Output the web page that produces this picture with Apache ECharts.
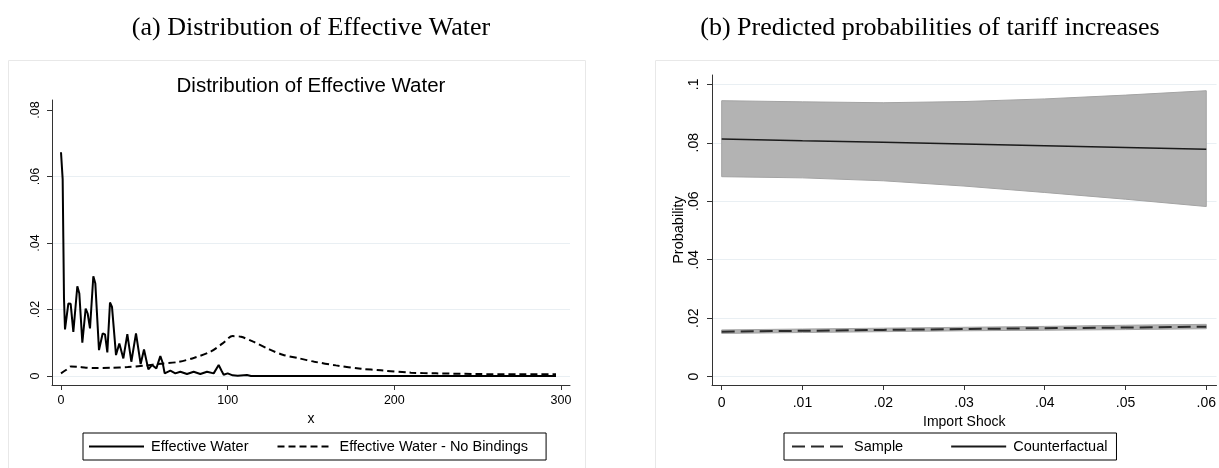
<!DOCTYPE html>
<html>
<head>
<meta charset="utf-8">
<script src="https://cdn.jsdelivr.net/npm/echarts@6/dist/echarts.min.js"></script>
<style>
  html, body { margin: 0; padding: 0; background: #fff; }
  #main { width: 1219px; height: 468px; }
</style>
</head>
<body>
<div id="main"></div>
<script>
// (a) kernel densities of effective water
var waterX = [0, 1.0, 1.4, 1.8, 2.4, 4.4, 5.8, 7.4, 9.8, 11.0, 12.8, 14.8, 16.0, 17.4, 19.4, 20.6,
  22.8, 25.0, 26.4, 27.8, 29.4, 30.6, 33.0, 35.0, 37.4, 39.8, 41.0, 42.2, 45.0, 47.8, 49.8,
  52.4, 54.6, 57.2, 59.6, 61.0, 62.2, 65.6, 68.6, 71.6, 75.6, 79.6, 83.6, 87.6, 91.6, 94.6,
  96.4, 97.6, 100, 103, 106, 111.6, 114, 150, 200, 250, 297];
var waterY = [0.0673, 0.0592, 0.0413, 0.0233, 0.0140, 0.0218, 0.0217, 0.0133, 0.0270, 0.0248,
  0.0100, 0.0203, 0.0188, 0.0143, 0.0300, 0.0278, 0.0078, 0.0128, 0.0125, 0.0071, 0.0221,
  0.0208, 0.0063, 0.0098, 0.0053, 0.0126, 0.0123, 0.0043, 0.0128, 0.0036, 0.0080, 0.0020,
  0.0033, 0.0023, 0.0060, 0.0040, 0.0008, 0.0016, 0.0008, 0.0013, 0.0006, 0.0013, 0.0006,
  0.0013, 0.0008, 0.0033, 0.0015, 0.0004, 0.0008, 0.0002, 0.0001, 0.0003, 0.0000, 0.0000,
  0.0000, 0.0000, 0.0000];
var noBindX = [0, 3, 6, 10, 15, 20, 30, 40, 50, 60, 70, 80, 90, 97, 103, 108, 115, 125, 133,
  143, 152, 165, 180, 192, 210, 225, 250, 275, 297];
var noBindY = [0.0008, 0.0018, 0.0029, 0.0028, 0.0025, 0.0024, 0.0025, 0.0027, 0.0031, 0.0037,
  0.0042, 0.0055, 0.0074, 0.0098, 0.0120, 0.0118, 0.0104, 0.0080, 0.0064, 0.0053, 0.0043,
  0.0032, 0.0022, 0.0017, 0.0010, 0.0008, 0.0006, 0.0005, 0.0005];
var densityTicks = [0, 0.02, 0.04, 0.06, 0.08];
var densityGrid = [0, 0.02, 0.04, 0.06];
var waterTicks = [0, 100, 200, 300];

// (b) predicted probabilities
var shock = [0, 0.01, 0.02, 0.03, 0.04, 0.05, 0.06];
var counterfactual = [0.0813, 0.0807, 0.0802, 0.0796, 0.0790, 0.0784, 0.0778];
var cfUpper = [0.0944, 0.0940, 0.0937, 0.0941, 0.0950, 0.0963, 0.0978];
var cfLower = [0.0684, 0.0680, 0.0670, 0.0652, 0.0630, 0.0607, 0.0582];
var sample = [0.0154, 0.0157, 0.0160, 0.0163, 0.0166, 0.0168, 0.0171];
var sampleUpper = [0.0160, 0.0163, 0.0166, 0.0169, 0.0172, 0.0176, 0.0179];
var sampleLower = [0.0148, 0.0151, 0.0154, 0.0157, 0.0159, 0.0161, 0.0164];
var probTicks = [0, 0.02, 0.04, 0.06, 0.08, 0.1];
var shockTicks = [0, 0.01, 0.02, 0.03, 0.04, 0.05, 0.06];

function pairs(xs, ys) {
  return xs.map(function (x, i) { return [x, ys[i]]; });
}
// stata style: .02 instead of 0.02
function stata(v) {
  return v === 0 ? '0' : String(v).replace(/^0\./, '.');
}

var sans = 'Liberation Sans';
var axisColor = '#333';
var gridColor = '#e9eff3';

function valueAxis(gridIndex, min, max, ticks, fontSize, extra) {
  var ax = {
    type: 'value',
    gridIndex: gridIndex,
    min: min,
    max: max,
    axisLine: { show: true, onZero: false, lineStyle: { color: axisColor, width: 1 } },
    axisTick: { show: true, length: 5, customValues: ticks, lineStyle: { color: axisColor } },
    axisLabel: { customValues: ticks, color: '#000', fontFamily: sans, fontSize: fontSize, formatter: stata },
    splitLine: { show: false }
  };
  for (var k in extra) {
    if (typeof extra[k] === 'object' && ax[k]) Object.assign(ax[k], extra[k]);
    else ax[k] = extra[k];
  }
  return ax;
}

// confidence band drawn as one polygon through the axis scales
function band(upper, lower) {
  return {
    type: 'custom', xAxisIndex: 1, yAxisIndex: 1, silent: true, z: 1,
    data: [[shock[0], lower[0]]],
    renderItem: function (params, api) {
      var pts = [];
      for (var i = 0; i < shock.length; i++) pts.push(api.coord([shock[i], upper[i]]));
      for (var j = shock.length - 1; j >= 0; j--) pts.push(api.coord([shock[j], lower[j]]));
      return {
        type: 'polygon', shape: { points: pts },
        style: { fill: '#b3b3b3', stroke: '#a3a3a3', lineWidth: 1 }
      };
    }
  };
}

var chart = echarts.init(document.getElementById('main'));

var option = {
  animation: false,
  graphic: [
    { type: 'rect', shape: { x: 8.5, y: 60.5, width: 577, height: 420 },
      style: { fill: 'none', stroke: '#e8e8e8', lineWidth: 1 }, silent: true },
    { type: 'rect', shape: { x: 655.5, y: 60.5, width: 620, height: 420 },
      style: { fill: 'none', stroke: '#e8e8e8', lineWidth: 1 }, silent: true },
    { type: 'text', x: 311, y: 28,
      style: { text: '(a) Distribution of Effective Water', font: '26px "Liberation Serif"',
        fill: '#000', align: 'center', verticalAlign: 'middle', textAlign: 'center', textVerticalAlign: 'middle' } },
    { type: 'text', x: 930, y: 28,
      style: { text: '(b) Predicted probabilities of tariff increases', font: '26px "Liberation Serif"',
        fill: '#000', align: 'center', verticalAlign: 'middle', textAlign: 'center', textVerticalAlign: 'middle' } },
    { type: 'text', x: 311, y: 86,
      style: { text: 'Distribution of Effective Water', font: '20.5px "Liberation Sans"',
        fill: '#000', align: 'center', verticalAlign: 'middle', textAlign: 'center', textVerticalAlign: 'middle' } }
  ],
  grid: [
    { left: 52, top: 100, width: 518, height: 285 },
    { left: 712, top: 75, width: 505, height: 310 }
  ],
  xAxis: [
    valueAxis(0, -5.4, 305.4, waterTicks, 12.5, {
      axisLabel: { formatter: null, margin: 9 },
      name: 'x', nameLocation: 'middle', nameGap: 21,
      nameTextStyle: { fontFamily: sans, fontSize: 14, color: '#000' }
    }),
    valueAxis(1, -0.0012, 0.06127, shockTicks, 14, {
      axisLabel: { margin: 11 },
      name: 'Import Shock', nameLocation: 'middle', nameGap: 27,
      nameTextStyle: { fontFamily: sans, fontSize: 14, color: '#000' }
    })
  ],
  yAxis: [
    valueAxis(0, -0.0027, 0.083, densityTicks, 12.5, {
      axisLabel: { rotate: 90, margin: 10 }
    }),
    valueAxis(1, -0.00284, 0.10318, probTicks, 14, {
      axisLabel: { rotate: 90, margin: 11 },
      splitLine: { show: true, lineStyle: { color: gridColor, width: 1 } },
      name: 'Probability', nameLocation: 'middle', nameGap: 22,
      nameTextStyle: { fontFamily: sans, fontSize: 14.5, color: '#000' }
    })
  ],
  legend: [
    {
      data: ['Effective Water', 'Effective Water - No Bindings'],
      left: 83, top: 433, orient: 'horizontal',
      itemWidth: 55, itemHeight: 14, itemGap: 28,
      padding: [6, 18, 6, 5],
      borderColor: '#000', borderWidth: 1,
      selectedMode: false,
      itemStyle: { opacity: 0 },
      textStyle: { fontFamily: sans, fontSize: 14.5, color: '#000', padding: [0, 0, 0, 2] }
    },
    {
      data: ['Sample', 'Counterfactual'],
      left: 784, top: 433, orient: 'horizontal',
      itemWidth: 55, itemHeight: 14, itemGap: 47,
      padding: [6, 9, 6, 7],
      borderColor: '#000', borderWidth: 1,
      selectedMode: false,
      itemStyle: { opacity: 0 },
      textStyle: { fontFamily: sans, fontSize: 14.5, color: '#000', padding: [0, 0, 0, 2] }
    }
  ],
  series: [
    {
      name: 'Effective Water - No Bindings', type: 'line', xAxisIndex: 0, yAxisIndex: 0,
      data: pairs(noBindX, noBindY), symbol: 'none', smooth: 0.3,
      lineStyle: { color: '#000', width: 2, type: [7, 4] }, itemStyle: { color: '#000' },
      markLine: {
        silent: true, symbol: 'none', label: { show: false }, z: 0,
        lineStyle: { color: gridColor, width: 1, type: 'solid' },
        data: densityGrid.map(function (v) { return { yAxis: v }; })
      }
    },
    {
      name: 'Effective Water', type: 'line', xAxisIndex: 0, yAxisIndex: 0,
      data: pairs(waterX, waterY), symbol: 'none',
      lineStyle: { color: '#000', width: 2 }, itemStyle: { color: '#000' }
    },
    band(cfUpper, cfLower),
    band(sampleUpper, sampleLower),
    {
      name: 'Sample', type: 'line', xAxisIndex: 1, yAxisIndex: 1, z: 3,
      data: pairs(shock, sample), symbol: 'none',
      lineStyle: { color: '#2b2b2b', width: 2, type: [13, 6] }, itemStyle: { color: '#2b2b2b' }
    },
    {
      name: 'Counterfactual', type: 'line', xAxisIndex: 1, yAxisIndex: 1, z: 3,
      data: pairs(shock, counterfactual), symbol: 'none',
      lineStyle: { color: '#1a1a1a', width: 1.5 }, itemStyle: { color: '#1a1a1a' }
    }
  ]
};

chart.setOption(option);
</script>
</body>
</html>
